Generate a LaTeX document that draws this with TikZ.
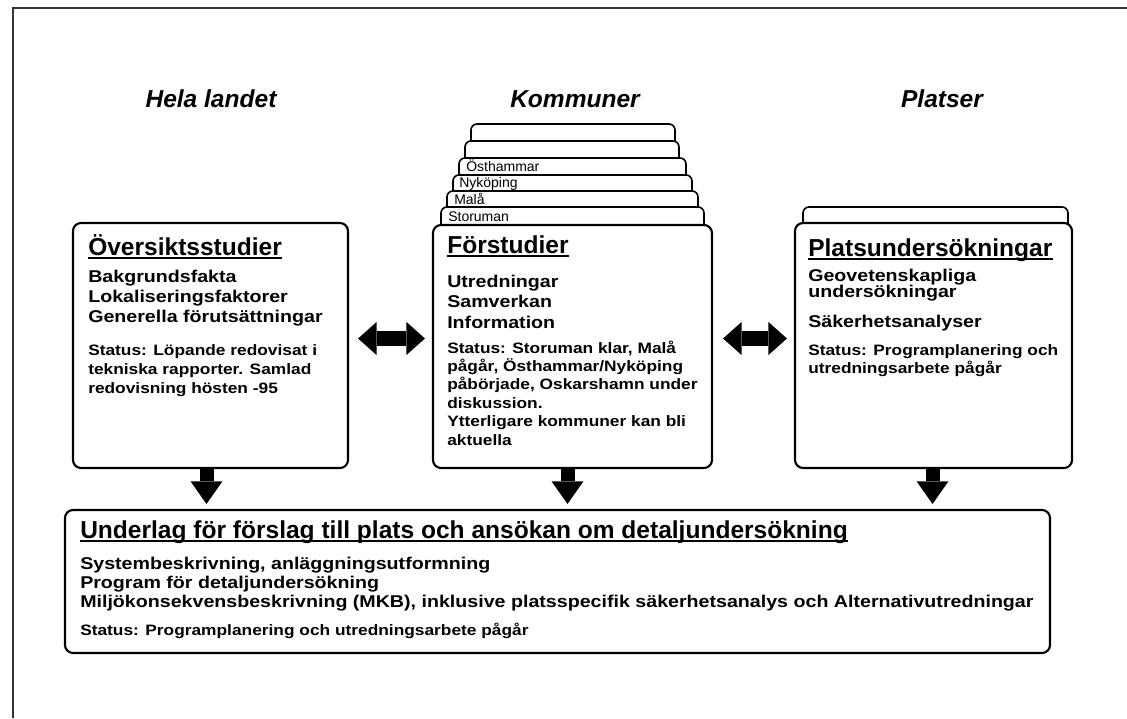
\documentclass[tikz,border=0pt]{standalone}
\usepackage{fontspec}
\setmainfont{Liberation Sans}
\newfontfamily\widesans[FakeStretch=1.15]{Liberation Sans}
\usetikzlibrary{arrows.meta,fit,calc}

\begin{document}
\begin{tikzpicture}[x=0.75pt,y=-0.75pt,
  frame/.style={draw=black!80, line width=0.9pt},
  box/.style={draw=black, line width=1.6pt, rounded corners=6pt, fill=white, inner sep=0pt},
  card/.style={draw=black, line width=1.2pt, rounded corners=4.5pt, fill=white},
  head/.style={font=\fontsize{18.4}{20}\selectfont\bfseries\itshape, anchor=base, inner sep=0pt},
  ttl/.style={font=\fontsize{18.4}{20}\selectfont\bfseries, anchor=base west, inner sep=0pt},
  txt/.style={font=\widesans\fontsize{12.8}{14}\selectfont\bfseries, anchor=base west, inner sep=0pt},
  stat/.style={font=\widesans\fontsize{11.3}{12}\selectfont\bfseries, anchor=base west, inner sep=0pt},
  tabtxt/.style={font=\fontsize{10.5}{11}\selectfont, anchor=base west, inner sep=0pt},
  uline/.style={line width=1.5pt},
  downarr/.style={draw=black, line width=10.5pt,
    -{Triangle[width=24pt,length=17pt,line width=0pt]}},
  twoway/.style={draw=black, line width=11pt,
    {Triangle[width=25pt,length=14pt,line width=0pt]}-{Triangle[width=25pt,length=14pt,line width=0pt]}},
]
\useasboundingbox (0,0) rectangle (1127,718);

% page frame
\draw[frame] (13,718) -- (13,8) -- (1127,8);

% column headings
\node[head] (h1) at (211,107) {Hela landet};
\node[head] (h2) at (575,107) {Kommuner};
\node[head] (h3) at (942,107) {Platser};

% stacked municipality cards
\draw[card] (471,124) rectangle (675,240);
\draw[card] (465,141) rectangle (679,240);
\draw[card] (459,158) rectangle (686,240);
\draw[card] (453,175) rectangle (692,240);
\draw[card] (447,191) rectangle (698,240);
\draw[card] (441,207) rectangle (704,240);
\node[tabtxt] (k4) at (466,171) {Östhammar};
\node[tabtxt] (k3) at (459,187) {Nyköping};
\node[tabtxt] (k2) at (454,204) {Malå};
\node[tabtxt] (k1) at (448,221) {Storuman};

% card behind the site box
\draw[card] (803,207) rectangle (1068,240);

% main boxes
\node[box, fit={(73,223) (348,468)}] (lbox) {};
\node[box, fit={(433,225) (712,468)}] (mbox) {};
\node[box, fit={(795,223) (1072,468)}] (rbox) {};
\node[box, fit={(65,510) (1050,653)}] (bbox) {};

% left box
\node[ttl] (lt) at (88,255) {Översiktsstudier};
\draw[uline] ([yshift=-2.6pt]lt.base west) -- ([yshift=-2.6pt]lt.base east);
\node[txt] (l1) at (88,282) {Bakgrundsfakta};
\node[txt] (l2) at (88,302) {Lokaliseringsfaktorer};
\node[txt] (l3) at (88,322) {Generella förutsättningar};
\node[stat] (l4) at (88,355) {Status: Löpande redovisat i};
\node[stat] (l5) at (88,374) {tekniska rapporter. Samlad};
\node[stat] (l6) at (88,393) {redovisning hösten -95};

% middle box
\node[ttl] (mt) at (447,253) {Förstudier};
\draw[uline] ([yshift=-2.6pt]mt.base west) -- ([yshift=-2.6pt]mt.base east);
\node[txt] (m1) at (447,287) {Utredningar};
\node[txt] (m2) at (447,307) {Samverkan};
\node[txt] (m3) at (447,328) {Information};
\node[stat] (m4) at (447,353) {Status: Storuman klar, Malå};
\node[stat] (m5) at (447,371) {pågår, Östhammar/Nyköping};
\node[stat] (m6) at (447,389) {påbörjade, Oskarshamn under};
\node[stat] (m7) at (447,408) {diskussion.};
\node[stat] (m8) at (447,426) {Ytterligare kommuner kan bli};
\node[stat] (m9) at (447,445) {aktuella};

% right box
\node[ttl] (rt) at (808,256) {Platsundersökningar};
\draw[uline] ([yshift=-2.6pt]rt.base west) -- ([yshift=-2.6pt]rt.base east);
\node[txt] (r1) at (808,281) {Geovetenskapliga};
\node[txt] (r2) at (808,297) {undersökningar};
\node[txt] (r3) at (808,327) {Säkerhetsanalyser};
\node[stat] (r4) at (808,355) {Status: Programplanering och};
\node[stat] (r5) at (808,373) {utredningsarbete pågår};

% bottom box
\node[ttl] (bt) at (80,538) {Underlag för förslag till plats och ansökan om detaljundersökning};
\draw[uline] ([yshift=-2.6pt]bt.base west) -- ([yshift=-2.6pt]bt.base east);
\node[txt] (b1) at (80,569) {Systembeskrivning, anläggningsutformning};
\node[txt] (b2) at (80,588) {Program för detaljundersökning};
\node[txt] (b3) at (80,607) {Miljökonsekvensbeskrivning (MKB), inklusive platsspecifik säkerhetsanalys och Alternativutredningar};
\node[stat] (b4) at (80,635) {Status: Programplanering och utredningsarbete pågår};

% two-way arrows between the boxes
\coordinate (d1) at ($(lbox.east)+(9,-7)$);
\coordinate (d2) at ($(mbox.east)+(10,-8)$);
\draw[twoway, shorten >=5.25pt] (d1) -- (d1 -| mbox.west);
\draw[twoway, shorten >=5.25pt] (d2) -- (d2 -| rbox.west);

% arrows down to the common box
\coordinate (a1) at ($(lbox.south)+(-4,0)$);
\coordinate (a2) at ($(mbox.south)+(-5,0)$);
\coordinate (a3) at ($(rbox.south)+(-1,0)$);
\draw[downarr, shorten >=3.75pt] (a1) -- (a1 |- bbox.north);
\draw[downarr, shorten >=3.75pt] (a2) -- (a2 |- bbox.north);
\draw[downarr, shorten >=3.75pt] (a3) -- (a3 |- bbox.north);
\end{tikzpicture}
\end{document}
